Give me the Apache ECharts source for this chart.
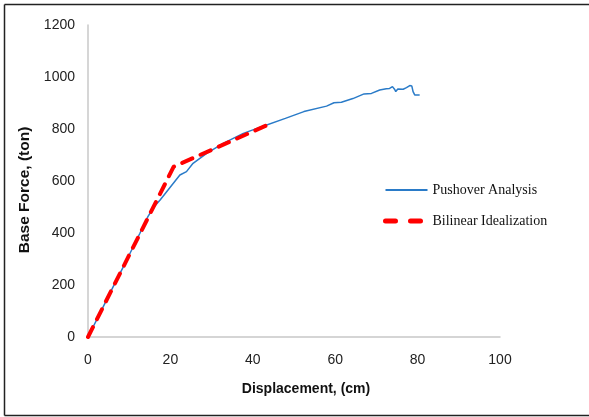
<!DOCTYPE html>
<html lang="en">
<head>
    <meta charset="UTF-8">
    <title>Pushover curve</title>
    <script src="https://cdn.jsdelivr.net/npm/echarts@6/dist/echarts.min.js"></script>
    <style>
        html, body { margin: 0; padding: 0; background: #fff; }
        #chart1 { width: 589px; height: 417px; }
    </style>
</head>
<body>
<div id="chart1"></div>
<script type="text/javascript">
    // values
    var pushDisp = [0, 2.9, 6, 9.4, 12.6, 14.5, 16, 17.5, 20, 22.3, 23.9, 25.5, 28.8, 32.8, 37.7, 42, 47.9, 52.4, 57.9, 59.7, 61.5, 64.3, 67, 68.8, 70.8, 72.4, 73.2, 73.9, 74.4, 74.7, 75.2, 76.5, 77.3, 78.1, 78.6, 78.9, 79.3, 79.7, 80.5];
    var pushForce = [0, 91, 190, 296, 399, 462, 500, 527, 577, 623, 636, 668, 706, 745, 783, 808, 841, 867, 888, 901, 903, 917, 935, 937, 950, 955, 956, 963, 953, 944, 954, 953, 959, 967, 965, 944, 931, 927, 931];
    var biDisp = [0, 20.8, 43.5];
    var biForce = [0, 655, 815];
    var xTicks = [0, 100, 20];
    var yTicks = [0, 1200, 200];

    function pairs(xs, ys) {
        var out = [];
        for (var i = 0; i < xs.length; i++) out.push([xs[i], ys[i]]);
        return out;
    }

    var frame = { stroke: '#222', lineWidth: 1.5 };

    var myChart1 = echarts.init(document.getElementById('chart1'));
    myChart1.setOption({
        animation: false,
        backgroundColor: '#fff',
        grid: { left: 88, right: 89, top: 25, bottom: 80, containLabel: false },
        // picture frame: top, left and bottom edges only
        graphic: [
            { type: 'line', silent: true, shape: { x1: 4.5, y1: 4.5, x2: 620, y2: 4.5 }, style: frame },
            { type: 'line', silent: true, shape: { x1: 4.5, y1: 4.5, x2: 4.5, y2: 415.5 }, style: frame },
            { type: 'line', silent: true, shape: { x1: 4.5, y1: 415.5, x2: 620, y2: 415.5 }, style: frame }
        ],
        legend: {
            orient: 'vertical',
            left: 383,
            top: 183,
            padding: 0,
            itemWidth: 42,
            itemHeight: 14,
            itemGap: 17,
            itemStyle: { opacity: 0 },
            textStyle: { fontFamily: 'Liberation Serif', fontSize: 14, color: '#111' },
            data: [
                'Pushover Analysis',
                { name: 'Bilinear Idealization', lineStyle: { width: 5, type: [10, 15], cap: 'round' } }
            ]
        },
        xAxis: {
            type: 'value',
            min: xTicks[0], max: xTicks[1], interval: xTicks[2],
            name: 'Displacement, (cm)',
            nameLocation: 'middle',
            nameGap: 45,
            nameTextStyle: { fontFamily: 'Liberation Sans', fontWeight: 'bold', fontSize: 14, color: '#111', padding: [0, 0, 0, 24] },
            axisLine: { lineStyle: { color: '#c8c8c8', width: 1.5 } },
            axisTick: { show: false },
            splitLine: { show: false },
            axisLabel: { margin: 16, fontFamily: 'Liberation Sans', fontSize: 14, color: '#222' }
        },
        yAxis: {
            type: 'value',
            min: yTicks[0], max: yTicks[1], interval: yTicks[2],
            name: 'Base Force, (ton)',
            nameLocation: 'middle',
            nameGap: 55,
            nameTextStyle: { fontFamily: 'Liberation Sans', fontWeight: 'bold', fontSize: 15.5, color: '#111', padding: [0, 18, 0, 0] },
            axisLine: { show: true, lineStyle: { color: '#c8c8c8', width: 1.5 } },
            axisTick: { show: false },
            splitLine: { show: false },
            axisLabel: {
                margin: 13, fontFamily: 'Liberation Sans', fontSize: 14, color: '#222',
                formatter: function (v) { return String(v); }
            }
        },
        series: [{
            name: 'Pushover Analysis',
            type: 'line',
            data: pairs(pushDisp, pushForce),
            showSymbol: false,
            symbol: 'none',
            lineStyle: { color: '#2a7bc8', width: 1.5 },
            itemStyle: { color: '#2a7bc8' }
        }, {
            name: 'Bilinear Idealization',
            type: 'line',
            data: pairs(biDisp, biForce),
            showSymbol: false,
            symbol: 'none',
            lineStyle: { color: '#ff0000', width: 4, type: [11, 9], cap: 'round' },
            itemStyle: { color: '#ff0000' }
        }]
    });
</script>
</body>
</html>
